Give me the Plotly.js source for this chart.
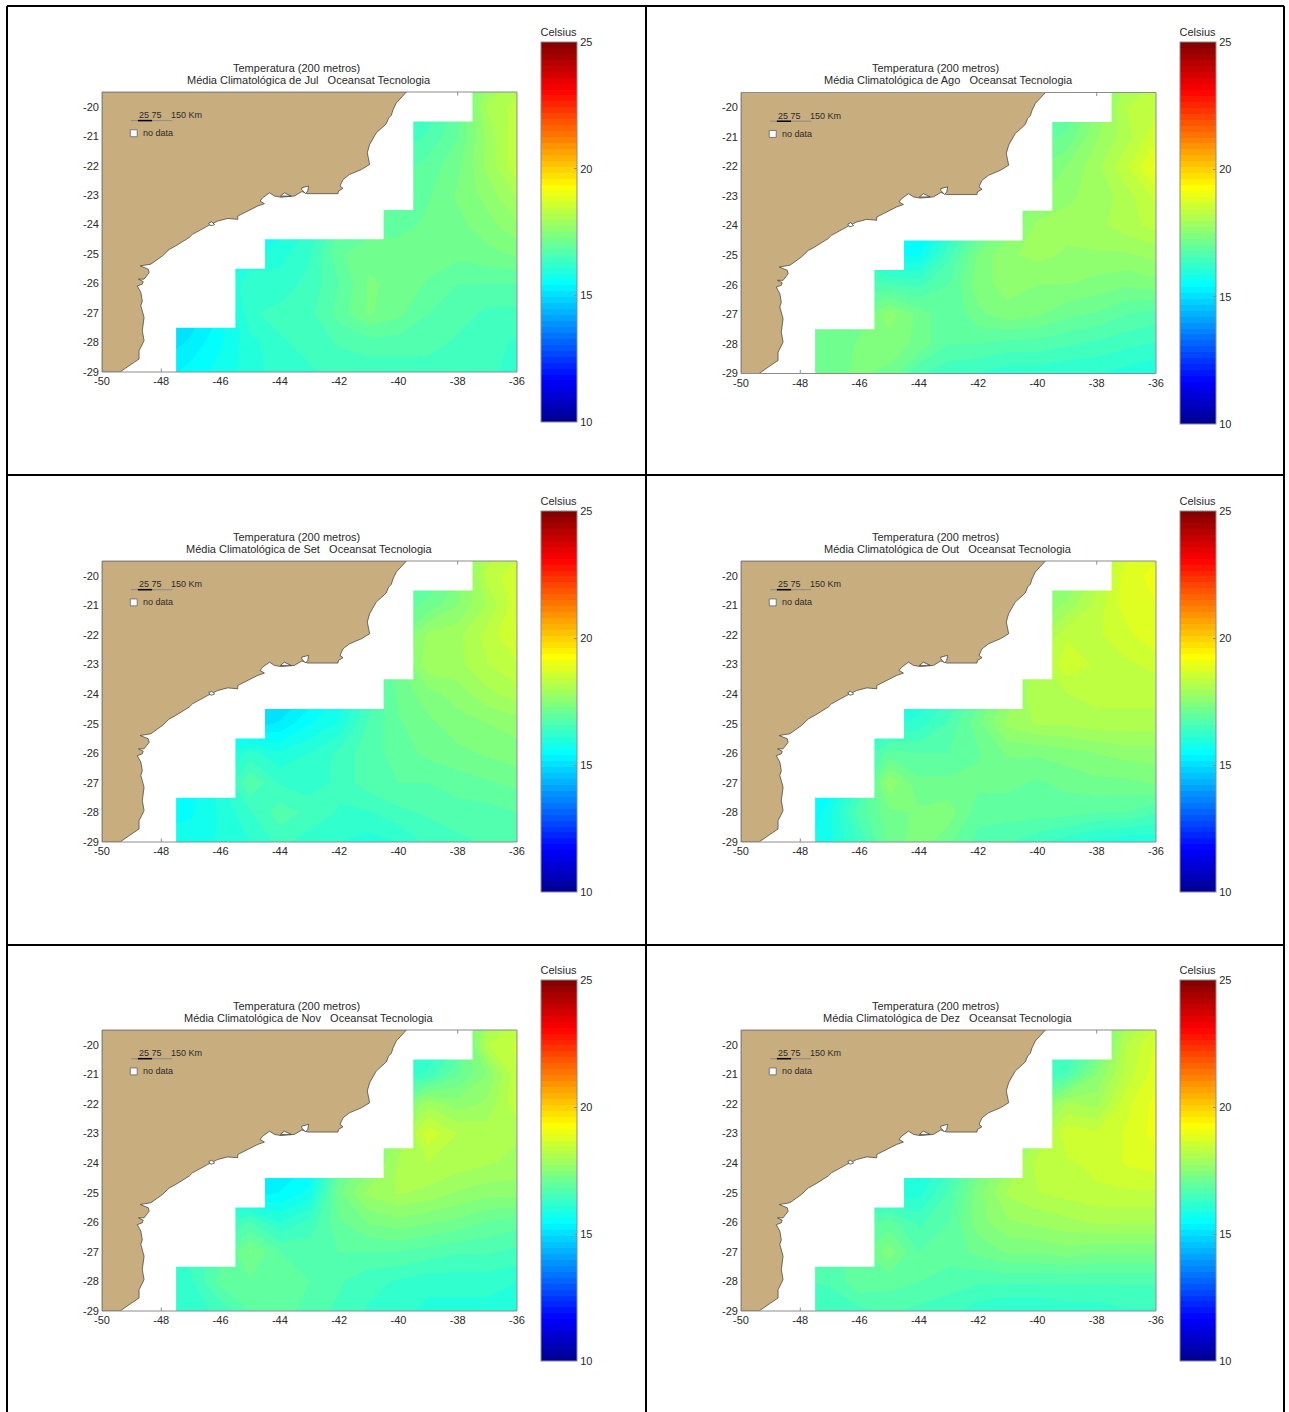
<!DOCTYPE html>
<html><head><meta charset="utf-8">
<script src="https://cdn.plot.ly/plotly-3.0.1.min.js"></script>
<style>html,body{margin:0;padding:0;background:#fff}#c{width:1289px;height:1412px}</style>
</head><body><div id="c"></div>
<script>
const N = null;
const lonNodes = [-48,-47,-46,-45,-44,-43,-42,-41,-40,-39,-38,-37,-36];
const latNodes = [-29,-28,-27,-26,-25,-24,-23,-22,-21,-20,-19];
const jul = [
[N,15.5,15.7,16.0,16.2,16.3,16.4,16.4,16.4,16.4,16.4,16.4,16.2],
[15.0,15.2,15.6,16.0,16.3,16.4,16.6,16.7,16.7,16.7,16.5,16.4,16.3],
[N,15.0,15.4,16.3,16.4,16.5,16.9,17.3,17.1,16.8,16.7,16.5,16.5],
[N,N,N,16.3,16.2,16.4,16.8,17.3,17.2,17.0,16.8,16.8,16.8],
[N,N,N,15.8,16.0,16.3,17.0,17.2,17.2,17.2,17.1,17.2,17.3],
[N,N,N,N,15.7,16.1,16.8,N,16.9,17.1,17.2,17.4,17.7],
[N,N,N,N,N,N,N,N,N,17.0,17.3,17.6,18.0],
[N,N,N,N,N,N,N,N,N,16.9,17.2,17.8,18.4],
[N,N,N,N,N,N,N,N,16.4,16.6,17.0,17.8,18.4],
[N,N,N,N,N,N,N,N,N,16.4,16.9,18.0,18.3],
[N,N,N,N,N,N,N,N,N,N,N,N,N]];
const ago = [
[N,17.2,17.3,17.2,16.6,16.4,16.3,16.2,16.2,16.1,16.1,16.0,15.9],
[N,17.1,17.3,17.4,17.2,16.8,16.8,16.7,16.7,16.6,16.5,16.4,16.3],
[N,17.0,N,17.6,17.2,16.8,17.2,17.4,17.3,17.1,17.0,16.8,16.7],
[N,N,N,16.6,16.5,16.8,17.4,17.6,17.5,17.5,17.4,17.3,17.4],
[N,N,N,15.6,15.6,16.5,17.3,17.7,17.8,17.7,17.7,17.7,17.8],
[N,N,N,N,15.2,16.0,16.8,N,17.8,17.8,17.9,18.1,18.3],
[N,N,N,N,N,N,N,N,N,17.7,17.8,18.1,18.5],
[N,N,N,N,N,N,N,N,N,17.5,17.9,18.4,19.0],
[N,N,N,N,N,N,N,N,16.9,17.1,17.7,18.1,18.6],
[N,N,N,N,N,N,N,N,N,16.8,17.5,18.2,18.4],
[N,N,N,N,N,N,N,N,N,N,N,N,N]];
const set_ = [
[N,15.7,15.9,16.1,16.4,16.2,16.1,16.0,16.1,16.4,16.5,16.6,16.7],
[N,15.6,15.9,16.3,16.7,16.5,16.3,16.3,16.5,16.6,16.7,16.7,16.8],
[N,15.5,N,16.8,16.3,16.2,16.4,16.7,16.8,16.8,16.9,17.0,17.1],
[N,N,N,16.2,15.9,16.1,16.4,16.7,16.9,17.1,17.2,17.3,17.4],
[N,N,N,15.0,15.2,15.6,15.9,16.6,17.0,17.2,17.4,17.5,17.6],
[N,N,N,N,14.7,15.2,15.6,N,17.1,17.4,17.6,17.9,18.1],
[N,N,N,N,N,N,N,N,N,17.9,17.9,18.2,18.4],
[N,N,N,N,N,N,N,N,N,17.8,17.9,18.3,18.7],
[N,N,N,N,N,N,N,N,16.9,17.1,17.5,18.0,18.6],
[N,N,N,N,N,N,N,N,N,16.8,17.2,18.3,18.6],
[N,N,N,N,N,N,N,N,N,N,N,N,N]];
const out = [
[N,15.8,16.4,17.1,17.4,17.1,16.7,16.6,16.4,16.2,16.0,15.9,15.9],
[15.2,15.8,16.7,17.2,17.3,17.4,16.9,16.9,16.9,16.9,16.8,16.8,16.6],
[N,15.4,16.4,17.7,17.1,17.1,17.1,17.1,17.0,17.1,17.2,17.2,17.3],
[N,N,N,16.9,16.8,16.8,17.0,17.3,17.3,17.4,17.5,17.6,17.6],
[N,N,N,16.0,16.2,16.6,17.2,17.8,18.0,18.0,18.1,18.1,18.1],
[N,N,N,N,15.8,16.3,16.9,N,18.2,18.2,18.3,18.3,18.3],
[N,N,N,N,N,N,N,N,N,18.6,18.4,18.4,18.5],
[N,N,N,N,N,N,N,N,N,18.4,18.4,18.6,18.9],
[N,N,N,N,N,N,N,N,17.5,17.8,18.3,18.8,18.9],
[N,N,N,N,N,N,N,N,N,17.4,18.1,18.8,19.0],
[N,N,N,N,N,N,N,N,N,N,N,N,N]];
const nov = [
[N,16.2,16.4,16.8,16.9,16.7,16.5,16.3,16.2,16.0,16.0,16.0,15.9],
[N,16.3,16.9,17.0,17.0,16.8,16.6,16.4,16.3,16.2,16.2,16.2,16.1],
[N,N,N,17.3,16.8,16.7,16.8,16.8,16.8,16.7,16.6,16.6,16.5],
[N,N,N,16.6,16.1,16.4,17.0,17.3,17.4,17.3,17.2,17.0,16.9],
[N,N,N,15.2,15.4,15.7,17.2,17.8,18.0,17.9,17.7,17.6,17.6],
[N,N,N,N,15.0,15.4,16.8,N,18.0,18.2,18.1,18.0,17.9],
[N,N,N,N,N,N,N,N,N,18.6,18.2,18.1,18.0],
[N,N,N,N,N,N,N,N,N,17.9,17.6,17.8,18.4],
[N,N,N,N,N,N,N,N,16.2,16.4,17.0,17.5,18.4],
[N,N,N,N,N,N,N,N,N,16.0,16.6,18.2,18.5],
[N,N,N,N,N,N,N,N,N,N,N,N,N]];
const dez = [
[N,16.4,16.5,16.6,16.5,16.4,16.2,16.1,16.1,16.2,16.2,16.3,16.3],
[N,16.6,17.0,16.9,16.8,16.7,16.6,16.6,16.6,16.6,16.6,16.6,16.6],
[N,N,N,17.4,16.8,16.9,17.1,17.3,17.3,17.4,17.3,17.3,17.3],
[N,N,N,16.9,16.5,16.8,17.4,17.7,17.8,17.9,18.0,18.0,18.0],
[N,N,N,15.9,16.0,16.6,17.4,18.0,18.2,18.3,18.4,18.4,18.4],
[N,N,N,N,15.6,16.3,17.1,N,18.3,18.4,18.5,18.7,18.8],
[N,N,N,N,N,N,N,N,N,18.6,18.5,18.7,19.0],
[N,N,N,N,N,N,N,N,N,18.0,17.9,18.6,19.0],
[N,N,N,N,N,N,N,N,16.3,16.6,17.5,18.3,18.8],
[N,N,N,N,N,N,N,N,N,16.2,17.0,18.2,18.7],
[N,N,N,N,N,N,N,N,N,N,N,N,N]];
const months = ['Jul','Ago','Set','Out','Nov','Dez'];
const monthData = [jul,ago,set_,out,nov,dez];
// no-data outline (lon, lat)
const maskLon = [-47.5,-47.5,-45.5,-45.5,-44.5,-44.5,-40.5,-40.5,-39.5,-39.5,-37.5,-37.5,-50,-50,-47.5];
const maskLat = [-29,-27.5,-27.5,-25.5,-25.5,-24.5,-24.5,-23.5,-23.5,-20.5,-20.5,-19.5,-19.5,-29,-29];
// coast (lon, lat)
const coastLon = [-39.73,-39.90,-40.07,-40.18,-40.24,-40.33,-40.41,-40.75,-40.86,-40.97,-41.05,-40.97,-41.25,-41.65,-41.87,-41.97,-41.87,-42.02,-42.04,-42.61,-43.06,-43.26,-43.51,-43.96,-44.18,-44.35,-44.58,-44.67,-44.52,-44.75,-45.09,-45.42,-45.42,-45.76,-46.10,-46.33,-46.44,-46.95,-47.06,-47.51,-47.73,-47.96,-48.19,-48.35,-48.71,-48.44,-48.41,-48.58,-48.77,-48.61,-48.64,-48.81,-48.69,-48.64,-48.69,-48.58,-48.64,-48.58,-48.75,-48.75,-49.09,-49.39,-50,-50,-39.73];
const coastLat = [-19.50,-19.68,-19.87,-20.10,-20.29,-20.38,-20.58,-20.89,-21.11,-21.28,-21.56,-21.96,-22.13,-22.30,-22.47,-22.69,-22.77,-22.86,-22.95,-22.94,-22.95,-22.88,-23.03,-23.07,-23.03,-22.92,-23.09,-23.20,-23.29,-23.37,-23.54,-23.71,-23.82,-23.79,-23.88,-24.01,-24.05,-24.33,-24.44,-24.72,-24.84,-25.06,-25.23,-25.34,-25.40,-25.51,-25.63,-25.85,-25.85,-25.93,-26.02,-26.08,-26.30,-26.59,-26.75,-27.15,-27.60,-27.94,-28.28,-28.56,-28.79,-29,-29,-19.5,-19.5];
const bayLon = [-43.26,-43.03,-43.06,-43.13,-43.26,-43.26,N,-43.98,-43.85,-43.62,-43.98,N,-46.40,-46.30,-46.20,-46.33,-46.40];
const bayLat = [-22.75,-22.69,-22.86,-22.95,-22.81,-22.75,N,-23.03,-22.92,-23.03,-23.03,N,-23.95,-23.90,-24.0,-24.04,-23.95];
const tickMarkLon = [-48,-48,N,-38,-38];
const tickMarkLat = [-29,-28.88,N,-19.5,-19.62];
const xTicks = [-50,-48,-46,-44,-42,-40,-38,-36];
const yTicks = [-20,-21,-22,-23,-24,-25,-26,-27,-28,-29];
const barTicks = [10,15,20,25];
const jet = [[0,'rgb(0,0,143)'],[0.111,'rgb(0,0,255)'],[0.365,'rgb(0,255,255)'],[0.619,'rgb(255,255,0)'],[0.873,'rgb(255,0,0)'],[1,'rgb(128,0,0)']];
// panel frames in page pixels: plot left,right,top,bottom; bar left,top,bottom; title y; title centres
const panels = [
 {l:102,r:517,t:92,b:372,bl:541,bt:42,bb:422,ty:68,c1:296,c2:309},
 {l:741,r:1156,t:92.5,b:373.5,bl:1180,bt:42.5,bb:424,ty:68,c1:935,c2:948},
 {l:102,r:517,t:561,b:842,bl:541,bt:511,bb:892,ty:537,c1:296,c2:309},
 {l:741,r:1156,t:561,b:842,bl:1180,bt:511,bb:892,ty:537,c1:935,c2:948},
 {l:102,r:517,t:1030,b:1311,bl:541,bt:980,bb:1361,ty:1006,c1:296,c2:309},
 {l:741,r:1156,t:1030,b:1311,bl:1180,bt:980,bb:1361,ty:1006,c1:935,c2:948}];
const W=1289,H=1412,FONT='"Liberation Sans",Arial,sans-serif',TXT='#2a2a2a',GR='#8c8c8c',LAND='#c8ad7f';
const px=v=>v/W, py=v=>1-v/H;
const traces=[],ann=[],shapes=[];
const layout={width:W,height:H,margin:{l:0,r:0,t:0,b:0},paper_bgcolor:'#fff',plot_bgcolor:'#fff',showlegend:false,font:{family:FONT,size:11,color:TXT}};
panels.forEach((p,i)=>{
  const n=i+1,xa='x'+n,ya='y'+n;
  const ax={showgrid:false,zeroline:false,showline:false,ticks:'',fixedrange:true,tickfont:{family:FONT,size:11,color:TXT}};
  layout['xaxis'+n]=Object.assign({},ax,{domain:[px(p.l),px(p.r)],range:[-50,-36],tickvals:xTicks,ticktext:xTicks.map(String),anchor:ya,tickangle:0,ticklabelstandoff:1});
  layout['yaxis'+n]=Object.assign({},ax,{domain:[py(p.b),py(p.t)],range:[-29,-19.5],tickvals:yTicks,ticktext:yTicks.map(String),anchor:xa,ticklabelstandoff:2});
  traces.push({type:'contour',x:lonNodes,y:latNodes,z:monthData[i],xaxis:xa,yaxis:ya,connectgaps:true,
    colorscale:jet,zmin:10,zmax:25,zauto:false,autocontour:false,line:{width:0,smoothing:0},
    contours:{start:10,end:25,size:15/64,coloring:'fill',showlines:false},hoverinfo:'skip',
    colorbar:{x:px(p.bl),xref:'paper',xanchor:'left',xpad:0,ypad:0,y:py(p.bb),yref:'paper',yanchor:'bottom',
      thicknessmode:'pixels',thickness:36,lenmode:'pixels',len:p.bb-p.bt+17,outlinecolor:GR,outlinewidth:1,
      tickmode:'array',tickvals:barTicks,ticktext:barTicks.map(String),ticks:'inside',ticklen:3,tickcolor:GR,tickwidth:1,
      tickfont:{family:FONT,size:11,color:TXT},title:{text:'Celsius',side:'top',font:{family:FONT,size:11,color:TXT}}}});
  traces.push({type:'scatter',mode:'lines',x:maskLon,y:maskLat,xaxis:xa,yaxis:ya,fill:'toself',fillcolor:'#fff',line:{width:0},hoverinfo:'skip'});
  traces.push({type:'scatter',mode:'lines',x:coastLon,y:coastLat,xaxis:xa,yaxis:ya,fill:'toself',fillcolor:LAND,line:{width:0.7,color:'#3a3a36'},hoverinfo:'skip'});
  traces.push({type:'scatter',mode:'lines',x:bayLon,y:bayLat,xaxis:xa,yaxis:ya,fill:'toself',fillcolor:'#fff',line:{width:0.7,color:'#333'},hoverinfo:'skip'});
  traces.push({type:'scatter',mode:'lines',x:tickMarkLon,y:tickMarkLat,xaxis:xa,yaxis:ya,line:{width:1,color:GR},hoverinfo:'skip'});
  traces.push({type:'scatter',mode:'lines',x:[-49.02,-47.63],y:[-20.47,-20.47],xaxis:xa,yaxis:ya,line:{width:1,color:GR},hoverinfo:'skip'});
  traces.push({type:'scatter',mode:'lines',x:[-48.79,-48.31],y:[-20.47,-20.47],xaxis:xa,yaxis:ya,line:{width:1.5,color:'#000'},hoverinfo:'skip'});
  traces.push({type:'scatter',mode:'markers',x:[-48.93],y:[-20.9],xaxis:xa,yaxis:ya,marker:{symbol:'square',size:7,color:'#fff',line:{width:1,color:'#777'}},hoverinfo:'skip'});
  const a=(t,x,y,an,sz)=>ann.push({text:t,xref:xa,yref:ya,x,y,xanchor:an,yanchor:'middle',showarrow:false,font:{family:FONT,size:sz||9,color:TXT}});
  a('25\u00A075',-48.38,-20.29,'center');
  a('150\u00A0Km',-47.73,-20.29,'left');
  a('no\u00A0data',-48.68,-20.9,'left');
  const t=(s,cx,y)=>ann.push({text:s,xref:'paper',yref:'paper',x:px(cx),y:py(y),xanchor:'center',yanchor:'middle',showarrow:false,font:{family:FONT,size:11,color:TXT}});
  t('Temperatura (200 metros)',p.c1,p.ty);
  t('Média Climatológica de '+months[i]+'\u00A0\u00A0\u00A0Oceansat Tecnologia',p.c2,p.ty+12);
  shapes.push({type:'rect',xref:'paper',yref:'paper',x0:px(p.l),x1:px(p.r),y0:py(p.b),y1:py(p.t),line:{color:GR,width:1},layer:'above'});
});
[[7,6,7,1412],[646,6,646,1412],[1284,6,1284,1412],[7,6,1284,6],[7,475,1284,475],[7,945,1284,945]].forEach(s=>{
  shapes.push({type:'line',xref:'paper',yref:'paper',x0:px(s[0]),x1:px(s[2]),y0:py(s[1]),y1:py(s[3]),line:{color:'#000',width:2},layer:'above'});
});
layout.annotations=ann;layout.shapes=shapes;
Plotly.newPlot('c',traces,layout,{displayModeBar:false,staticPlot:true});
</script></body></html>
